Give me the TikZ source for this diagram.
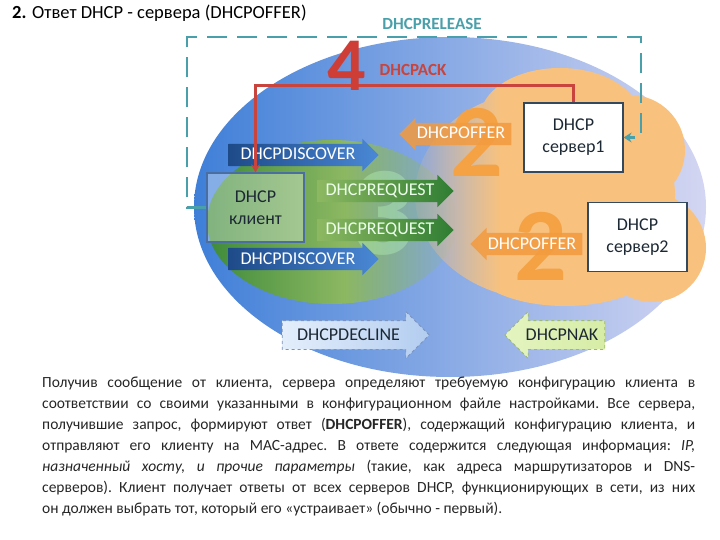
\documentclass[tikz,border=0pt]{standalone}
\usepackage{fontspec}
\setmainfont{Carlito}
\usetikzlibrary{shapes.arrows, arrows.meta, fadings}

\definecolor{blueL}{HTML}{3F7FD8}
\definecolor{blueM}{HTML}{8DBEF3}
\definecolor{blueR}{HTML}{D4D6F2}
\definecolor{greenD}{HTML}{3D8A3A}
\definecolor{greenL}{HTML}{8DB862}
\definecolor{cloudor}{HTML}{F8C27E}
\definecolor{offor}{HTML}{F39A3E}
\definecolor{numor}{HTML}{F5A245}
\definecolor{discD}{HTML}{1E4A88}
\definecolor{discL}{HTML}{4A88D6}
\definecolor{reqD}{HTML}{2E7D32}
\definecolor{relteal}{HTML}{4AA0AA}
\definecolor{ackred}{HTML}{C8443C}
\definecolor{frame}{HTML}{34495E}
\definecolor{inkdark}{HTML}{1C2833}
\definecolor{declA}{HTML}{E4EEFB}
\definecolor{declB}{HTML}{B3CDF0}
\definecolor{declE}{HTML}{7D93BC}
\definecolor{nakA}{HTML}{E4F4C0}
\definecolor{nakB}{HTML}{D6ECA6}
\definecolor{nakE}{HTML}{9DB870}

\tikzfading[name=fadein, left color=transparent!100, right color=transparent!0]
\tikzfading[name=fadeout, left color=transparent!0, right color=transparent!100]

\begin{document}
\begin{tikzpicture}[x=1pt, y=-1pt,
  srvbox/.style={draw=frame, line width=1.2pt, fill=white, minimum width=99pt, minimum height=69pt, align=center, text=inkdark, font=\fontsize{18}{22}\selectfont},
  clbox/.style={srvbox, draw=discD!80!white, fill opacity=0.35, text opacity=1, minimum width=97pt},
  msg/.style={single arrow, single arrow head extend=5pt, text height=12pt, text depth=2pt, inner xsep=2pt, inner ysep=4pt, font=\fontsize{18}{18}\selectfont},
  discarr/.style={msg, left color=discD, right color=discL, text=white, minimum height=150pt},
  reqarr/.style={msg, left color=greenL, right color=reqD, text=green!8!white, minimum height=136pt},
  offarr/.style={msg, shape border rotate=180, fill=offor, fill opacity=0.85, text opacity=1, text=white, minimum height=112pt},
  dashedarr/.style={msg, dashed, line width=0.9pt, text=inkdark, inner ysep=7pt, single arrow head extend=9pt},
  bignum/.style={inner sep=0pt, font=\fontsize{#1}{#1}\selectfont\bfseries},
  lbl/.style={inner sep=0pt, font=\fontsize{17}{20}\selectfont\bfseries},
  relline/.style={draw=relteal, line width=2.6pt, dash pattern=on 20pt off 10pt, -{Stealth[length=8pt, width=10pt]}},
  ackline/.style={draw=ackred, line width=2.4pt, -{Stealth[length=8pt, width=9pt]}},
]
\useasboundingbox (0,0) rectangle (720,540);

% --- Title ---
\node[anchor=west, inner sep=0pt, font=\fontsize{18.5}{22}\selectfont] (title) at (12,13) {\textbf{2.} Ответ DHCP - сервера (DHCPOFFER)};

% --- Background areas ---
\shade[left color=blueL, middle color=blueM, right color=blueR] (450,207) ellipse [x radius=256pt, y radius=170pt];

\begin{scope}
  \clip (332,222) ellipse [x radius=125pt, y radius=82pt];
  \shade[left color=greenD, right color=greenL] (205,138) rectangle (345,306);
  \fill[greenL, path fading=fadeout] (345,138) rectangle (460,306);
\end{scope}

\begin{scope}
  \clip (545,195) ellipse [x radius=130pt, y radius=105pt]
        (560,118) ellipse [x radius=80pt, y radius=50pt]
        (630,150) circle [radius=55pt]
        (652,248) circle [radius=54pt]
        (565,262) ellipse [x radius=95pt, y radius=44pt];
  \fill[cloudor] (500,50) rectangle (720,330);
  \fill[cloudor, path fading=fadein] (405,50) rectangle (500,330);
\end{scope}

% --- Hosts ---
\node[bignum=127, text=white!75!green, text opacity=0.35] (num3) at (383,213) {3};

\node[clbox] (clnt) at (255.5,207.5) {DHCP\\клиент};
\node[srvbox] (srv1) at (573.5,137.5) {DHCP\\сервер1};
\node[srvbox] (srv2) at (637.5,237) {DHCP\\сервер2};

% --- Messages ---
\node[discarr] (disc1) at (298,155) {DHCPDISCOVER};
\node[discarr] (disc2) at (298,259) {DHCPDISCOVER};
\node[reqarr] (req1) at (380,191) {DHCPREQUEST};
\node[reqarr] (req2) at (380,230) {DHCPREQUEST};

\node[bignum=104, text=numor] (num2a) at (477,142) {2};
\node[bignum=104, text=numor] (num2b) at (541,246) {2};
\node[offarr] (off1) at (461,134) {DHCPOFFER};
\node[offarr] (off2) at (532,244) {DHCPOFFER};

\node[dashedarr, draw=declE, left color=declA, right color=declB, minimum height=147pt] (decl) at (348.5,335) {DHCPDECLINE};
\node[dashedarr, shape border rotate=180, draw=nakE, left color=nakA, right color=nakB, minimum height=100pt] (nak) at (562,335) {DHCPNAK};

% --- DHCPACK (4) ---
\draw[ackline] (srv1.north) -- ++(0,-17) -| (clnt.north);
\node[bignum=76, text=ackred!90!red] (num4) at (347,66) {4};
\node[lbl, text=ackred] (acklbl) at (413,70) {DHCPACK};

% --- DHCPRELEASE ---
\coordinate (relL) at (187,37);
\coordinate (relR) at (641,37);
\draw[relline] (clnt.west) -| (relL) -- (relR) |- (srv1.east);
\node[lbl, text=relteal] (rellbl) at (432,24) {DHCPRELEASE};

% --- Description ---
\node[anchor=north west, text width=653pt, align=justify, inner sep=0pt, text=black!85, font=\fontsize{15.5}{21}\selectfont] (para) at (42,377) {\hyphenpenalty=10000\frenchspacing Получив сообщение от клиента, сервера определяют требуемую конфигурацию клиента в\linebreak соответствии со своими указанными в конфигурационном файле настройками. Все сервера,\linebreak получившие запрос, формируют ответ (\textbf{DHCPOFFER}), содержащий конфигурацию клиента, и\linebreak отправляют его клиенту на MAC-адрес. В ответе содержится следующая информация: \textit{IP,\linebreak назначенный хосту, и прочие параметры} (такие, как адреса маршрутизаторов и DNS-\linebreak серверов). Клиент получает ответы от всех серверов DHCP, функционирующих в сети, из них\linebreak он должен выбрать тот, который его «устраивает» (обычно - первый).};

\end{tikzpicture}
\end{document}
